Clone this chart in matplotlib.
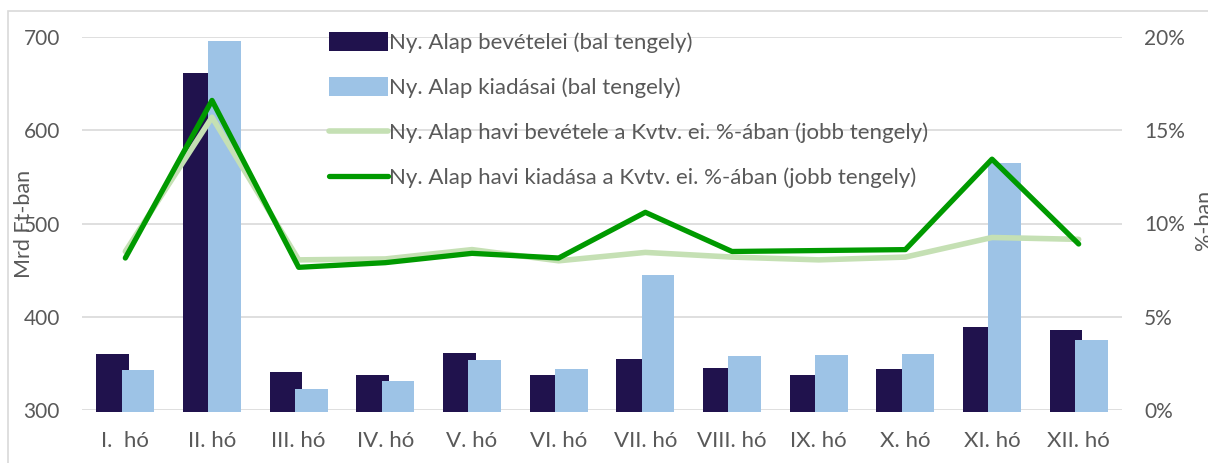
import numpy as np
import matplotlib
matplotlib.use("Agg")
import matplotlib.pyplot as plt
from matplotlib.patches import Patch, Rectangle
from matplotlib.lines import Line2D
from matplotlib.ticker import FuncFormatter, MultipleLocator

# === ADATOK ===
honapok = ["I.  hó", "II. hó", "III. hó", "IV. hó", "V. hó", "VI. hó",
           "VII. hó", "VIII. hó", "IX. hó", "X. hó", "XI. hó", "XII. hó"]
bevetel = [360, 661, 341, 337.5, 361, 337.5, 355, 345, 337.5, 344, 389, 386]
kiadas = [343, 696, 322.5, 331, 353.5, 344, 445, 357.5, 359, 360, 564.5, 375]
bevetel_pct = [8.5, 15.7, 8.05, 8.1, 8.6, 8.0, 8.45, 8.2, 8.05, 8.2, 9.25, 9.15]
kiadas_pct = [8.15, 16.6, 7.65, 7.9, 8.4, 8.15, 10.6, 8.5, 8.55, 8.6, 13.45, 8.9]

cimkek = [
    "Ny. Alap bevételei (bal tengely)",
    "Ny. Alap kiadásai (bal tengely)",
    "Ny. Alap havi bevétele a Kvtv. ei. %-ában (jobb tengely)",
    "Ny. Alap havi kiadása a Kvtv. ei. %-ában (jobb tengely)",
]

C_BEV = "#20124d"
C_KIAD = "#9dc3e6"
C_BEV_L = "#c5e0b4"
C_KIAD_L = "#009a00"
C_TXT = "#595959"
C_GRID = "#d9d9d9"

plt.rcParams.update({"font.family": ["Lato", "DejaVu Sans"], "font.size": 16})

W, H = 1208, 463
fig = plt.figure(figsize=(W / 100, H / 100), dpi=100)
ax = fig.add_axes([82 / W, 1 - 410 / H, 1040 / W, 373 / H])
ax2 = ax.twinx()

# keret
fig.patches.append(Rectangle((8 / W, -0.1), 1.1, 1 - 11 / H + 0.1,
                             transform=fig.transFigure, fill=False,
                             edgecolor=C_GRID, linewidth=1.2))

x = np.arange(len(honapok))
w = 0.375
alap = 298
ax.bar(x - 0.147, np.array(bevetel) - alap, w, bottom=alap, color=C_BEV,
       zorder=2, clip_on=False)
ax.bar(x + 0.147, np.array(kiadas) - alap, w, bottom=alap, color=C_KIAD,
       zorder=3, clip_on=False)

ax2.plot(x, bevetel_pct, color=C_BEV_L, lw=4, solid_capstyle="round",
         solid_joinstyle="round", zorder=3)
ax2.plot(x, kiadas_pct, color=C_KIAD_L, lw=3.8, solid_capstyle="round",
         solid_joinstyle="round", zorder=4)

ax.set_xlim(-0.5, len(honapok) - 0.5)
ax.set_ylim(300, 700)
ax.yaxis.set_major_locator(MultipleLocator(100))
ax2.set_ylim(0, 20)
ax2.yaxis.set_major_locator(MultipleLocator(5))
ax2.yaxis.set_major_formatter(FuncFormatter(lambda v, p: f"{v:.0f}%"))

ax.set_xticks(x)
ax.set_xticklabels(honapok)
ax.grid(axis="y", color=C_GRID, linewidth=1.2, zorder=0)
ax.set_axisbelow(True)

for a in (ax, ax2):
    for s in a.spines.values():
        s.set_visible(False)
    a.tick_params(length=0, colors=C_TXT)
ax.tick_params(axis="y", pad=16, labelsize=15)
ax2.tick_params(axis="y", pad=16, labelsize=15)
ax.tick_params(axis="x", pad=15, labelsize=16)

ax.set_ylabel("Mrd Ft-ban", color=C_TXT, fontsize=15.5)
ax.yaxis.set_label_coords(-0.046, 0.5)
ax2.set_ylabel("%-ban", color=C_TXT, fontsize=15.5)
ax2.yaxis.set_label_coords(1.069, 0.51)

kezelok = [
    Patch(facecolor=C_BEV, edgecolor="none"),
    Patch(facecolor=C_KIAD, edgecolor="none"),
    Line2D([], [], color=C_BEV_L, lw=4, solid_capstyle="round"),
    Line2D([], [], color=C_KIAD_L, lw=3.8, solid_capstyle="round"),
]
leg = ax2.legend(kezelok, cimkek, loc="upper left",
                 bbox_to_anchor=(329 / W, 1 - 32 / H), bbox_transform=fig.transFigure,
                 frameon=False, borderpad=0, borderaxespad=0,
                 handlelength=2.66, handleheight=0.92, handletextpad=0.05,
                 labelspacing=1.08, fontsize=16)
for t in leg.get_texts():
    t.set_color(C_TXT)

fig.savefig("out.png", dpi=100)
